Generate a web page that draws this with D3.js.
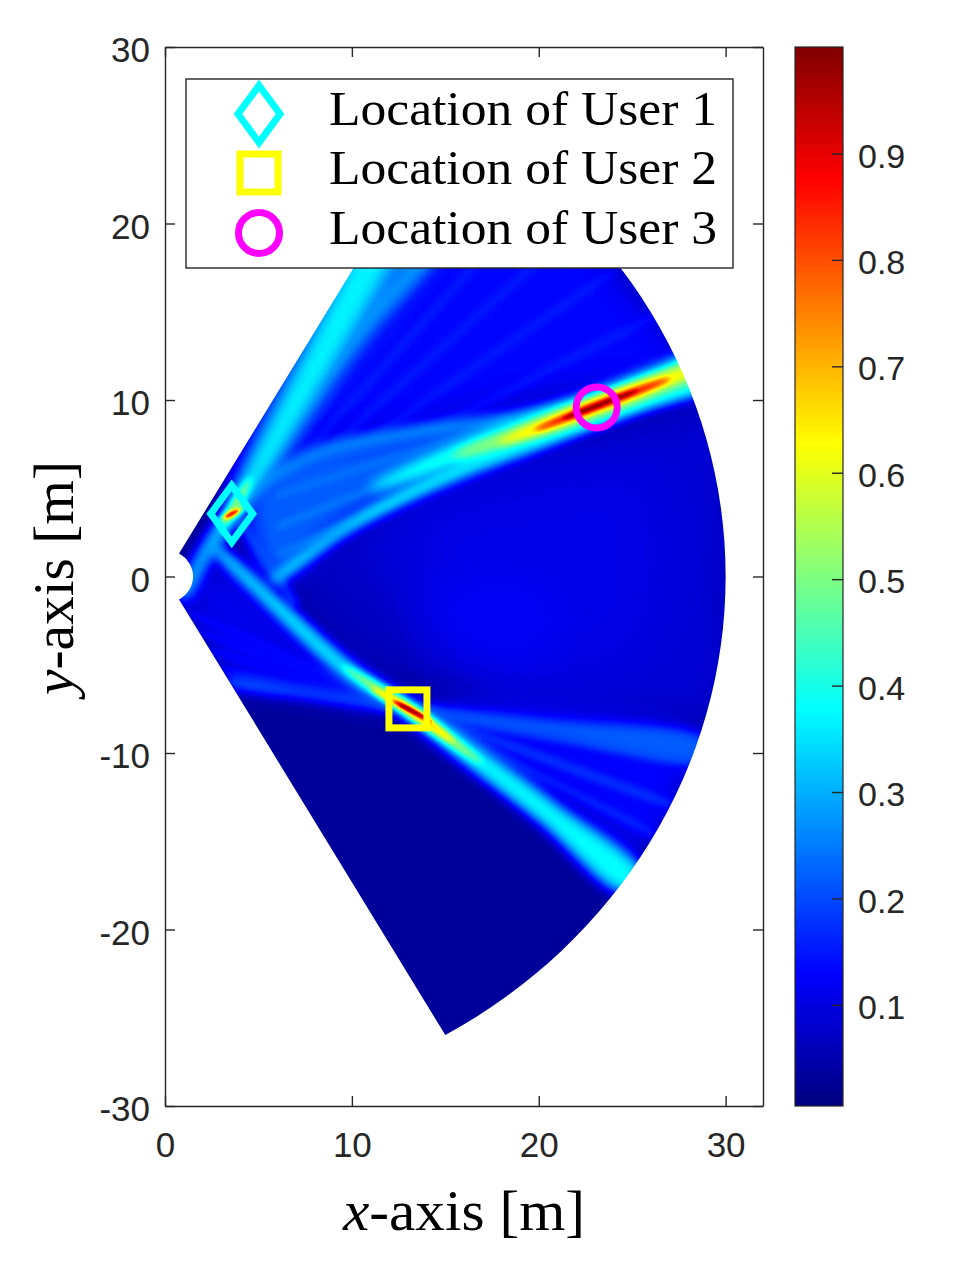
<!DOCTYPE html>
<html>
<head>
<meta charset="utf-8">
<script src="https://cdn.jsdelivr.net/npm/d3@7"></script>
<style>
  body { margin: 0; background: #fff; }
</style>
</head>
<body>
<svg id="chart" width="955" height="1264"></svg>
<script>
// ---- data ----
const xTicks = [0, 10, 20, 30];
const yTicks = [-30, -20, -10, 0, 10, 20, 30];
const cTicks = [0.1, 0.2, 0.3, 0.4, 0.5, 0.6, 0.7, 0.8, 0.9];
const colorLimits = [0.005, 1];
const jetStops = [0, 0.125, 0.375, 0.625, 0.875, 1];
const jetColors = ["#000080", "#0000ff", "#00ffff", "#ffff00", "#ff0000", "#800000"];
const sectorRadius = [1.5, 30];
const sectorAngle = [-60, 60];

const users = [
  { label: "Location of User 1", x: 3.57, y: 3.55, symbol: "diamond", color: "#00ffff" },
  { label: "Location of User 2", x: 13.0, y: -7.5, symbol: "square", color: "#ffff00" },
  { label: "Location of User 3", x: 23.1, y: 9.58, symbol: "circle", color: "#ff00ff" }
];

// gain level of the quiet part of the sector
const baseLevel = 0.032;

// broad areas of the gain map: outline [x, y], level, blur (m)
const zones = [
  { pts: [[3.6, 4.0], [15.5, 27], [21, 21.5], [25.5, 16], [28.5, 11.2], [22, 10.2], [14, 8.4], [7, 6.8]], v: 0.135, blur: 1.0 },
  { pts: [[6.5, 0.3], [10, 2.8], [14, -1], [15, -6], [10.5, -4.5]], v: 0.07, blur: 0.8 },
  { pts: [[9, 2.2], [14, 5], [24, 8.6], [30.5, 10.5], [31, 0], [30.5, -8], [22, -8.4], [16, -6.6], [13, -2]], v: 0.088, blur: 1.3 },
  { pts: [[12, 3.5], [22, 6.8], [26.5, 6.5], [27, -3], [24, -6.2], [17, -5.5]], v: 0.105, blur: 1.6 },
  { pts: [[14, -0.5], [21, -0.3], [21, -4.5], [15, -4.3]], v: 0.12, blur: 1.2 },
  { pts: [[0.8, -1.4], [3.0, 1.0], [7.3, -2.9], [13, -7.5], [8, -6.8], [3.3, -5.9], [2.2, -3.8]], v: 0.11, blur: 0.8 },
  { pts: [[13, -7.5], [28.6, -9.4], [27.8, -12.2], [25.8, -15.5], [21, -12.6]], v: 0.13, blur: 0.8 },
  { pts: [[5.7, -0.3], [10, 3.2], [14.3, 5.3], [20.5, 7.9], [23, 9.6], [18, 9.0], [12, 8.0], [7, 6.9], [4.4, 4.7]], v: 0.22, blur: 0.6 },
  { pts: [[3.4, 3.8], [15, 26.5], [17.5, 24], [14.5, 18.5], [8.5, 10.5], [4.6, 4.6]], v: 0.2, blur: 0.8 }
];

// thin interference stripes: from, to, half width (m), level, blur (m)
const stripes = [
  { from: [5.0, 4.6], to: [16.5, 21.5], hw: 0.12, v: 0.18, blur: 0.22 },
  { from: [5.4, 4.5], to: [19, 20.5], hw: 0.12, v: 0.18, blur: 0.22 },
  { from: [5.8, 4.4], to: [21.5, 19.3], hw: 0.12, v: 0.18, blur: 0.22 },
  { from: [6.2, 4.3], to: [24, 17.3], hw: 0.12, v: 0.18, blur: 0.22 },
  { from: [6.6, 4.2], to: [26.3, 14.8], hw: 0.12, v: 0.18, blur: 0.22 },
  { from: [7.0, 4.1], to: [28, 12.8], hw: 0.12, v: 0.17, blur: 0.22 },
  { from: [6.0, 1.2], to: [20, 8.2], hw: 0.12, v: 0.27, blur: 0.2 },
  { from: [6.0, 2.8], to: [19.5, 8.6], hw: 0.12, v: 0.27, blur: 0.2 },
  { from: [6.0, 4.6], to: [18.5, 8.9], hw: 0.12, v: 0.26, blur: 0.2 },
  { from: [1.2, -2.0], to: [13, -7.5], hw: 0.13, v: 0.16, blur: 0.2 },
  { from: [1.8, -3.1], to: [13, -7.5], hw: 0.13, v: 0.16, blur: 0.2 },
  { from: [2.4, -4.2], to: [13, -7.5], hw: 0.13, v: 0.16, blur: 0.2 },
  { from: [3.0, -5.2], to: [13, -7.5], hw: 0.13, v: 0.16, blur: 0.2 },
  { from: [13, -7.5], to: [28.4, -10.5], hw: 0.15, v: 0.22, blur: 0.25 },
  { from: [13, -7.5], to: [27.3, -13.0], hw: 0.15, v: 0.22, blur: 0.25 },
  { from: [13, -7.5], to: [26.2, -14.6], hw: 0.15, v: 0.2, blur: 0.25 },
  { from: [3.9, 3.3], to: [7.0, -1.6], hw: 0.2, v: 0.22, blur: 0.25 }
];

// beams and focal spots: centre line [x, y, half width], level, blur (m)
const streaks = [
  // user 1
  { pts: [[0.9, -1.3, 0.15], [2.0, 1.0, 0.35], [3.6, 3.6, 0.5], [6, 8, 0.9], [8.6, 12.8, 1.2], [11, 17.4, 1.4], [13.6, 22.5, 1.6]], v: 0.27, blur: 0.4 },
  { pts: [[0.9, -1.3, 0.08], [2.0, 1.0, 0.2], [3.6, 3.6, 0.28], [5.9, 7.8, 0.5], [8.4, 12.6, 0.7], [10.8, 17.4, 0.85], [13.3, 22.5, 0.9]], v: 0.37, blur: 0.35 },
  { pts: [[4.5, 5.2, 0.1], [7, 9.2, 0.3], [10.3, 13.8, 0.45], [13.5, 17.6, 0.55], [16.5, 21.5, 0.6]], v: 0.28, blur: 0.35 },
  { pts: [[3.0, 2.6, 0.02], [3.8, 4.1, 0.22], [4.6, 5.6, 0.02]], v: 0.55, blur: 0.2 },
  { pts: [[2.9, 3.15, 0.02], [3.57, 3.55, 0.22], [4.3, 3.95, 0.02]], v: 0.62, blur: 0.15 },
  { pts: [[3.2, 3.33, 0.02], [3.57, 3.55, 0.1], [3.95, 3.78, 0.02]], v: 0.95, blur: 0.08 },
  // user 3
  { pts: [[5.7, -0.3, 0.12], [9.5, 2.6, 0.3], [14.3, 5.3, 0.4], [20.5, 7.9, 0.45], [25, 9.7, 0.5], [29.5, 11.5, 0.55]], v: 0.36, blur: 0.3 },
  { pts: [[4.4, 4.8, 0.12], [8, 6.9, 0.3], [13, 8.1, 0.35], [18.4, 8.9, 0.3], [23, 9.7, 0.15]], v: 0.28, blur: 0.3 },
  { pts: [[11, 5.0, 0.05], [16, 7.1, 0.55], [23, 9.6, 0.8], [27, 11.2, 0.85], [30, 12.4, 0.85]], v: 0.42, blur: 0.35 },
  { pts: [[15.5, 6.8, 0.05], [19, 8.1, 0.35], [23, 9.65, 0.5], [26.5, 11.05, 0.5], [29.5, 12.2, 0.4]], v: 0.56, blur: 0.3 },
  { pts: [[17.8, 7.55, 0.02], [20.5, 8.6, 0.3], [23.3, 9.75, 0.36], [26, 10.8, 0.3], [28.3, 11.7, 0.02]], v: 0.68, blur: 0.25 },
  { pts: [[19.8, 8.3, 0.02], [23.3, 9.75, 0.24], [27, 11.2, 0.02]], v: 0.88, blur: 0.15 },
  { pts: [[21.3, 8.95, 0.02], [23.3, 9.75, 0.12], [25.3, 10.55, 0.02]], v: 1.0, blur: 0.1 },
  // user 2
  { pts: [[2.6, 1.7, 0.1], [5.5, -1.2, 0.4], [9.9, -5.4, 0.5], [13, -7.5, 0.55], [16.5, -10.2, 0.7], [20.5, -13.4, 0.8], [25, -17.3, 0.9]], v: 0.28, blur: 0.35 },
  { pts: [[2.6, 1.7, 0.05], [5.5, -1.2, 0.22], [9.9, -5.4, 0.28], [13, -7.5, 0.3], [16.5, -10.2, 0.4], [20.5, -13.4, 0.45], [25, -17.3, 0.5]], v: 0.38, blur: 0.3 },
  { pts: [[3.2, -5.9, 0.2], [8, -6.7, 0.3], [13, -7.5, 0.3], [20, -8.5, 0.45], [29, -9.8, 0.6]], v: 0.22, blur: 0.3 },
  { pts: [[9.5, -5.1, 0.02], [13, -7.5, 0.32], [15.2, -9.2, 0.26], [17.0, -10.6, 0.02]], v: 0.55, blur: 0.2 },
  { pts: [[11, -6.3, 0.02], [13, -7.5, 0.22], [15.5, -9.4, 0.02]], v: 0.68, blur: 0.15 },
  { pts: [[12.2, -7.05, 0.02], [13.15, -7.58, 0.13], [14.3, -8.25, 0.02]], v: 0.92, blur: 0.08 },
  { pts: [[12.5, -7.22, 0.02], [13.15, -7.58, 0.07], [13.8, -7.95, 0.02]], v: 1.0, blur: 0.05 }
];

// ---- layout ----
const plot = { left: 165, top: 47, width: 598, height: 1059 };
const bar = { left: 795, width: 48 };
const ink = "#262626";

const svg = d3.select("#chart");
const x = d3.scaleLinear().domain([0, 32]).range([0, plot.width]);
const y = d3.scaleLinear().domain([-30, 30]).range([plot.height, 0]);
const cScale = d3.scaleLinear().domain(colorLimits).range([plot.height, 0]);
const jet = d3.scaleLinear().domain(jetStops).range(jetColors).clamp(true);

const ppm = ((x(1) - x(0)) + (y(0) - y(1))) / 2; // pixels per metre, roughly

function sectorPath() {
  const [r0, r1] = sectorRadius;
  const a0 = sectorAngle[0] * Math.PI / 180, a1 = sectorAngle[1] * Math.PI / 180;
  const kx = x(1) - x(0), ky = y(0) - y(1);
  const P = (r, a) => [x(r * Math.cos(a)), y(r * Math.sin(a))];
  const A = P(r0, a1), B = P(r1, a1), C = P(r1, a0), D = P(r0, a0);
  return `M${A}L${B}A${r1 * kx},${r1 * ky} 0 0 1 ${C}L${D}A${r0 * kx},${r0 * ky} 0 0 0 ${A}Z`;
}

// outline of a tapered band around a centre line
function bandOutline(pts) {
  const n = pts.length, L = [], R = [];
  pts.forEach((p, i) => {
    const a = pts[Math.max(0, i - 1)], b = pts[Math.min(n - 1, i + 1)];
    let tx = b[0] - a[0], ty = b[1] - a[1];
    const len = Math.hypot(tx, ty) || 1;
    tx /= len; ty /= len;
    L.push([p[0] - ty * p[2], p[1] + tx * p[2]]);
    R.push([p[0] + ty * p[2], p[1] - tx * p[2]]);
  });
  return L.concat(R.reverse());
}

// ---- gain map: levels painted as grey, then mapped through jet ----
const cv = document.createElement("canvas");
cv.width = plot.width; cv.height = plot.height;
const ctx = cv.getContext("2d");
const gray = v => { const g = Math.round(v * 255); return `rgb(${g},${g},${g})`; };
const toPx = p => [x(p[0]), y(p[1])];

ctx.fillStyle = gray(baseLevel);
ctx.fillRect(0, 0, cv.width, cv.height);
ctx.globalCompositeOperation = "lighten";

function fillShape(pts, v, blur, curve) {
  ctx.filter = `blur(${(blur * ppm).toFixed(1)}px)`;
  ctx.fillStyle = gray(v);
  ctx.beginPath();
  d3.line().curve(curve).context(ctx)(pts.map(toPx));
  ctx.fill();
}

zones.forEach(z => fillShape(z.pts, z.v, z.blur, d3.curveCatmullRomClosed));

stripes.forEach(s => {
  ctx.filter = `blur(${(s.blur * ppm).toFixed(1)}px)`;
  ctx.strokeStyle = gray(s.v);
  ctx.lineWidth = 2 * s.hw * ppm;
  ctx.beginPath();
  ctx.moveTo(...toPx(s.from));
  ctx.lineTo(...toPx(s.to));
  ctx.stroke();
});

streaks.forEach(s => fillShape(bandOutline(s.pts), s.v, s.blur, d3.curveCatmullRomClosed));

ctx.filter = "none";
ctx.globalCompositeOperation = "source-over";
const img = ctx.getImageData(0, 0, cv.width, cv.height);
const lut = d3.range(256).map(g => d3.rgb(jet((g / 255 - colorLimits[0]) / (colorLimits[1] - colorLimits[0]))));
for (let i = 0; i < img.data.length; i += 4) {
  const c = lut[img.data[i]];
  img.data[i] = c.r; img.data[i + 1] = c.g; img.data[i + 2] = c.b; img.data[i + 3] = 255;
}
ctx.putImageData(img, 0, 0);

const defs = svg.append("defs");
defs.append("clipPath").attr("id", "sector").append("path").attr("d", sectorPath());

const g = svg.append("g").attr("transform", `translate(${plot.left},${plot.top})`);
g.append("image")
  .attr("width", plot.width).attr("height", plot.height)
  .attr("href", cv.toDataURL())
  .attr("clip-path", "url(#sector)");

// ---- axes (box with inward ticks) ----
const plain = d => String(d); // hyphen minus, as in the figure
function styleAxis(sel) {
  sel.selectAll("path, line").attr("stroke", ink).attr("stroke-width", 1.4);
  sel.selectAll("text").attr("fill", ink).attr("font-family", "'Liberation Sans', Arial, sans-serif").attr("font-size", 35);
}
g.append("g").attr("transform", `translate(0,${plot.height})`)
  .call(d3.axisBottom(x).tickValues(xTicks).tickFormat(plain).tickSizeInner(-10).tickSizeOuter(0).tickPadding(26))
  .call(styleAxis);
g.append("g")
  .call(d3.axisTop(x).tickValues(xTicks).tickSizeInner(-10).tickSizeOuter(0).tickFormat(""))
  .call(styleAxis);
g.append("g")
  .call(d3.axisLeft(y).tickValues(yTicks).tickFormat(plain).tickSizeInner(-10).tickSizeOuter(0).tickPadding(15))
  .call(styleAxis)
  .selectAll("text").attr("dy", "0.42em");
g.append("g").attr("transform", `translate(${plot.width},0)`)
  .call(d3.axisRight(y).tickValues(yTicks).tickSizeInner(-10).tickSizeOuter(0).tickFormat(""))
  .call(styleAxis);

// ---- markers ----
function drawMarker(sel, symbol, color) {
  if (symbol === "diamond") {
    sel.append("path").attr("d", "M0,-28.5L21,0L0,28.5L-21,0Z");
  } else if (symbol === "square") {
    sel.append("rect").attr("x", -19).attr("y", -19).attr("width", 38).attr("height", 38);
  } else {
    sel.append("circle").attr("r", 20.5);
  }
  sel.selectAll("*").attr("fill", "none").attr("stroke", color).attr("stroke-width", 7);
}

users.forEach(u => {
  const m = g.append("g").attr("transform", `translate(${x(u.x)},${y(u.y)})`);
  drawMarker(m, u.symbol, u.color);
});

// ---- legend ----
const legend = svg.append("g").attr("transform", "translate(186,79)");
legend.append("rect").attr("width", 547).attr("height", 189)
  .attr("fill", "#fff").attr("stroke", ink).attr("stroke-width", 1.4);
const rowY = [35, 94, 154];
users.forEach((u, i) => {
  const m = legend.append("g").attr("transform", `translate(73,${rowY[i]})`);
  drawMarker(m, u.symbol, u.color);
  legend.append("text")
    .attr("x", 143).attr("y", rowY[i] + 11)
    .attr("font-family", "'Liberation Serif', 'Times New Roman', serif")
    .attr("font-size", 49)
    .attr("textLength", 388).attr("lengthAdjust", "spacingAndGlyphs")
    .attr("fill", "#000")
    .text(u.label);
});

// ---- axis titles ----
const serif = "'Liberation Serif', 'Times New Roman', serif";
const xt = svg.append("text")
  .attr("x", plot.left + plot.width / 2).attr("y", 1230)
  .attr("text-anchor", "middle").attr("font-family", serif).attr("font-size", 56)
  .attr("textLength", 242).attr("lengthAdjust", "spacingAndGlyphs").attr("fill", "#000");
xt.append("tspan").attr("font-style", "italic").text("x");
xt.append("tspan").text("-axis [m]");

const yt = svg.append("text")
  .attr("transform", "translate(73,578) rotate(-90)")
  .attr("text-anchor", "middle").attr("font-family", serif).attr("font-size", 56)
  .attr("textLength", 234).attr("lengthAdjust", "spacingAndGlyphs").attr("fill", "#000");
yt.append("tspan").attr("font-style", "italic").text("y");
yt.append("tspan").text("-axis [m]");

// ---- colorbar ----
const grad = defs.append("linearGradient").attr("id", "jet")
  .attr("x1", 0).attr("y1", 1).attr("x2", 0).attr("y2", 0);
jetStops.forEach((s, i) => grad.append("stop").attr("offset", s).attr("stop-color", jetColors[i]));

const cb = svg.append("g").attr("transform", `translate(${bar.left},${plot.top})`);
cb.append("rect").attr("width", bar.width).attr("height", plot.height)
  .attr("fill", "url(#jet)").attr("stroke", ink).attr("stroke-width", 1.2);
const cAxis = cb.append("g").attr("transform", `translate(${bar.width},0)`)
  .call(d3.axisRight(cScale).tickValues(cTicks).tickFormat(d3.format(".1f")).tickSizeInner(-11).tickSizeOuter(0).tickPadding(15));
cAxis.select(".domain").remove();
cAxis.selectAll("line").attr("stroke", ink).attr("stroke-width", 1.4);
cAxis.selectAll("text").attr("fill", ink).attr("font-family", "'Liberation Sans', Arial, sans-serif")
  .attr("font-size", 34).attr("dy", "0.4em");
</script>
</body>
</html>
